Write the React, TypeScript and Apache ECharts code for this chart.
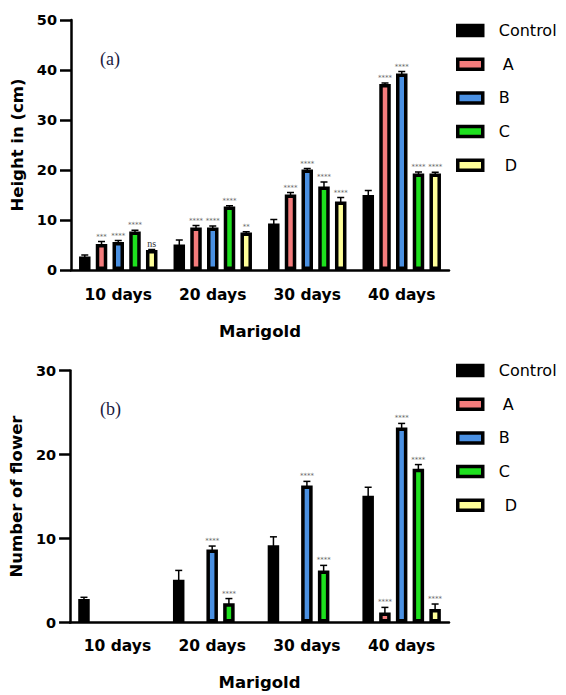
import React, { useEffect, useRef } from 'react';
import * as echarts from 'echarts';

const categories = ['10 days', '20 days', '30 days', '40 days'];
const seriesNames = ['Control', 'A', 'B', 'C', 'D'];
const seriesColors = ['#000000', '#F47C7C', '#4A90E2', '#1EE01E', '#FFFF99'];

// (a) Height in (cm): means and error (SD, drawn upward)
const heightControl = [2.7, 5.1, 9.3, 15.0];
const heightA = [5.2, 8.5, 15.1, 37.2];
const heightB = [5.6, 8.5, 20.1, 39.3];
const heightC = [7.7, 12.7, 16.7, 19.3];
const heightD = [4.0, 7.5, 13.7, 19.3];
const heightErrControl = [0.3, 0.9, 0.8, 0.9];
const heightErrA = [0.5, 0.4, 0.4, 0.2];
const heightErrB = [0.3, 0.3, 0.2, 0.4];
const heightErrC = [0.25, 0.15, 0.9, 0.3];
const heightErrD = [0.1, 0.15, 0.8, 0.25];
const heightSigControl = ['', '', '', ''];
const heightSigA = ['***', '****', '****', '****'];
const heightSigB = ['****', '****', '****', '****'];
const heightSigC = ['****', '****', '****', '****'];
const heightSigD = ['ns', '**', '****', '****'];

// (b) Number of flower
const flowerControl = [2.8, 5.1, 9.2, 15.1];
const flowerA = [0, 0, 0, 1.2];
const flowerB = [0, 8.7, 16.3, 23.2];
const flowerC = [0, 2.3, 6.2, 18.3];
const flowerD = [0, 0, 0, 1.6];
const flowerErrControl = [0.2, 1.1, 1.0, 1.0];
const flowerErrA = [0, 0, 0, 0.6];
const flowerErrB = [0, 0.4, 0.5, 0.5];
const flowerErrC = [0, 0.55, 0.6, 0.5];
const flowerErrD = [0, 0, 0, 0.6];
const flowerSigControl = ['', '', '', ''];
const flowerSigA = ['', '', '', '****'];
const flowerSigB = ['', '****', '****', '****'];
const flowerSigC = ['', '****', '****', '****'];
const flowerSigD = ['', '', '', '****'];

const heightTicks = { min: 0, max: 50, interval: 10 };
const flowerTicks = { min: 0, max: 30, interval: 10 };

const FONT = 'DejaVu Sans';
const BAR_W = 11.5;
const BAR_GAP = 0.455;
const STEP = BAR_W * (1 + BAR_GAP);

function buildChart(
  idx: number,
  values: number[][],
  errs: number[][],
  sigs: string[][],
) {
  const bars = values.map((vals, si) => ({
    type: 'bar',
    name: seriesNames[si],
    xAxisIndex: idx,
    yAxisIndex: idx,
    barWidth: BAR_W,
    barGap: `${BAR_GAP * 100}%`,
    itemStyle: { color: seriesColors[si], borderColor: '#000', borderWidth: 3.5 },
    data: vals.map((v) =>
      v === 0 ? { value: 0, itemStyle: { borderWidth: 0 } } : v,
    ),
    z: 2,
  }));
  const errData: number[][] = [];
  const errLabels: string[] = [];
  values.forEach((vals, si) => {
    vals.forEach((v, ci) => {
      if (v === 0 && errs[si][ci] === 0) return;
      errData.push([ci, si, v, v + errs[si][ci]]);
      errLabels.push(sigs[si][ci]);
    });
  });
  const custom = {
    type: 'custom',
    xAxisIndex: idx,
    yAxisIndex: idx,
    z: 5,
    silent: true,
    encode: { x: 0, y: 3 },
    data: errData,
    renderItem: (params: any, api: any) => {
      const ci = api.value(0);
      const si = api.value(1);
      const v = api.value(2);
      const top = api.value(3);
      const b = api.coord([ci, v]);
      const t = api.coord([ci, top]);
      const x = b[0] + (si - 2) * STEP;
      const lbl = errLabels[params.dataIndex];
      const children: any[] = [
        { type: 'line', shape: { x1: x, y1: b[1] + 1, x2: x, y2: t[1] }, style: { stroke: '#000', lineWidth: 1.5 } },
        { type: 'line', shape: { x1: x - 3.5, y1: t[1], x2: x + 3.5, y2: t[1] }, style: { stroke: '#000', lineWidth: 1.5 } },
      ];
      if (lbl) {
        const isNs = lbl === 'ns';
        children.push({
          type: 'text',
          x,
          y: t[1] - (isNs ? 1 : 1.5),
          style: {
            text: lbl,
            fontSize: isNs ? 10 : 7,
            fontFamily: isNs ? 'Liberation Serif' : FONT,
            fill: isNs ? '#333' : '#666',
            align: 'center',
            verticalAlign: 'bottom',
          },
        });
      }
      return { type: 'group', children };
    },
  };
  return [...bars, custom];
}

const legendData = [
  { name: 'Control' },
  { name: 'A', textStyle: { padding: [0, 0, 0, 15] } },
  { name: 'B' },
  { name: 'C' },
  { name: 'D', textStyle: { padding: [0, 0, 0, 17] } },
];

function legendAt(top: number) {
  return {
    orient: 'vertical',
    left: 451,
    top,
    icon: 'rect',
    itemWidth: 25,
    itemHeight: 10,
    itemGap: 17.7,
    selectedMode: false,
    itemStyle: { borderColor: '#000', borderWidth: 3.5 },
    textStyle: { fontFamily: FONT, fontSize: 16, color: '#000', lineHeight: 16, padding: [0, 0, 0, 11] },
    data: legendData,
  };
}

function xAxisFor(idx: number, margin: number, nameGap: number) {
  return {
    type: 'category',
    gridIndex: idx,
    data: categories,
    axisLine: { lineStyle: { color: '#000', width: 2.5 } },
    axisTick: { alignWithLabel: true, length: 8, lineStyle: { color: '#000', width: 2.5 } },
    axisLabel: { fontFamily: FONT, fontWeight: 'bold', fontSize: 15.5, color: '#000', margin },
    name: 'Marigold',
    nameLocation: 'middle',
    nameGap,
    nameTextStyle: { fontFamily: FONT, fontWeight: 'bold', fontSize: 16.5, color: '#000' },
  };
}

function yAxisFor(idx: number, ticks: any, name: string, nameGap: number) {
  return {
    type: 'value',
    gridIndex: idx,
    ...ticks,
    axisLine: { show: true, lineStyle: { color: '#000', width: 2.5 } },
    axisTick: { show: true, length: 11, lineStyle: { color: '#000', width: 2.5 } },
    axisLabel: { fontFamily: FONT, fontWeight: 'bold', fontSize: 14.5, color: '#000', margin: 14 },
    splitLine: { show: false },
    name,
    nameLocation: 'middle',
    nameRotate: 90,
    nameGap,
    nameTextStyle: { fontFamily: FONT, fontWeight: 'bold', fontSize: 16.5, color: '#000' },
  };
}

export default function App() {
  const ref = useRef<HTMLDivElement>(null);
  useEffect(() => {
    if (!ref.current) return;
    const chart = echarts.init(ref.current, undefined, { renderer: 'svg' });
    const option = {
      animation: false,
      backgroundColor: '#fff',
      grid: [
        { left: 71, right: 117, top: 20, height: 250 },
        { left: 70, right: 117, top: 370.5, height: 252 },
      ],
      xAxis: [xAxisFor(0, 17, 53), xAxisFor(1, 15, 51)],
      yAxis: [
        yAxisFor(0, heightTicks, 'Height in (cm)', 42),
        yAxisFor(1, flowerTicks, 'Number of flower', 44),
      ],
      legend: [legendAt(17.5), legendAt(357.5)],
      graphic: [
        { type: 'text', left: 100, top: 50, style: { text: '(a)', fontFamily: 'Liberation Serif', fontSize: 18, fill: '#1a1a40' } },
        { type: 'text', left: 100, top: 400, style: { text: '(b)', fontFamily: 'Liberation Serif', fontSize: 18, fill: '#1a1a40' } },
      ],
      series: [
        ...buildChart(
          0,
          [heightControl, heightA, heightB, heightC, heightD],
          [heightErrControl, heightErrA, heightErrB, heightErrC, heightErrD],
          [heightSigControl, heightSigA, heightSigB, heightSigC, heightSigD],
        ),
        ...buildChart(
          1,
          [flowerControl, flowerA, flowerB, flowerC, flowerD],
          [flowerErrControl, flowerErrA, flowerErrB, flowerErrC, flowerErrD],
          [flowerSigControl, flowerSigA, flowerSigB, flowerSigC, flowerSigD],
        ),
      ],
    };
    chart.setOption(option as any);
    return () => chart.dispose();
  }, []);
  return (
    <div
      ref={ref}
      style={{ position: 'fixed', left: 0, top: 0, width: 566, height: 695, background: '#fff' }}
    />
  );
}
